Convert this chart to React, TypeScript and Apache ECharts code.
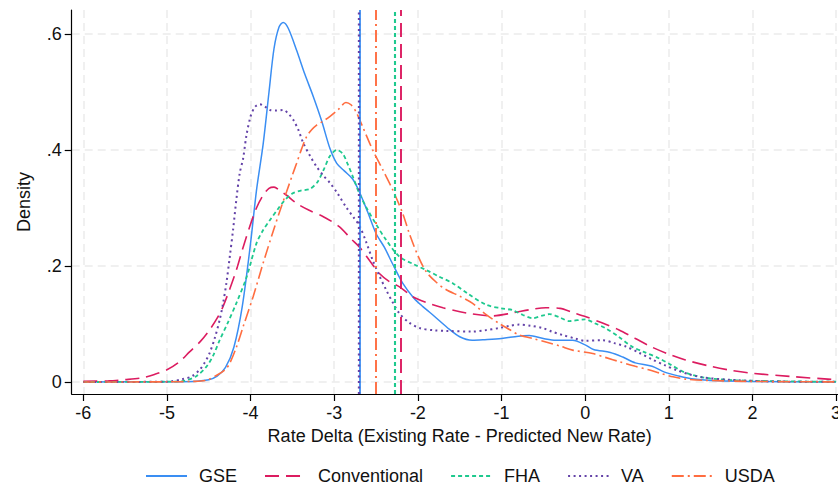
import { useEffect, useRef } from "react";
import * as echarts from "echarts";

// x tick positions and y tick positions
const xTicks = [-6, -5, -4, -3, -2, -1, 0, 1, 2, 3];
const yTicks = [0, 0.2, 0.4, 0.6];

const seriesNames = ["GSE", "Conventional", "FHA", "VA", "USDA"];

// kernel density estimates: [rate delta, density]
const gseDensity = [
  [-6, 0], [-5, 0.0005], [-4.7, 0.001], [-4.5, 0.004], [-4.4, 0.01], [-4.3, 0.025], [-4.2, 0.06],
  [-4.1, 0.13], [-4.0, 0.24], [-3.93, 0.33], [-3.85, 0.41], [-3.78, 0.5], [-3.72, 0.575], [-3.66, 0.612],
  [-3.61, 0.62], [-3.55, 0.61], [-3.45, 0.572], [-3.35, 0.53], [-3.25, 0.492], [-3.15, 0.45], [-3.05, 0.402],
  [-2.97, 0.377], [-2.88, 0.364], [-2.78, 0.35], [-2.7, 0.328], [-2.6, 0.293], [-2.5, 0.256], [-2.4, 0.232],
  [-2.3, 0.203], [-2.18, 0.17], [-2.05, 0.145], [-1.94, 0.13], [-1.8, 0.113], [-1.65, 0.094], [-1.5, 0.078],
  [-1.35, 0.072], [-1.2, 0.073], [-1.0, 0.075], [-0.8, 0.079], [-0.67, 0.08], [-0.5, 0.075], [-0.35, 0.072],
  [-0.15, 0.072], [0.0, 0.064], [0.1, 0.056], [0.3, 0.051], [0.45, 0.043], [0.6, 0.033], [0.8, 0.027],
  [0.95, 0.017], [1.1, 0.011], [1.3, 0.005], [1.6, 0.002], [2.0, 0.001], [3.0, 0.0],
];

const conventionalDensity = [
  [-6, 0.001], [-5.7, 0.002], [-5.5, 0.004], [-5.3, 0.007], [-5.15, 0.013], [-5.0, 0.021], [-4.85, 0.035],
  [-4.73, 0.052], [-4.6, 0.07], [-4.49, 0.09], [-4.4, 0.11], [-4.33, 0.13], [-4.25, 0.16], [-4.17, 0.193],
  [-4.09, 0.232], [-4.01, 0.268], [-3.93, 0.3], [-3.85, 0.322], [-3.78, 0.334], [-3.72, 0.336], [-3.65, 0.33],
  [-3.57, 0.322], [-3.45, 0.308], [-3.3, 0.296], [-3.13, 0.285], [-2.94, 0.268], [-2.8, 0.247], [-2.7, 0.233],
  [-2.58, 0.21], [-2.46, 0.187], [-2.34, 0.173], [-2.22, 0.164], [-2.06, 0.147], [-1.9, 0.137], [-1.7, 0.128],
  [-1.42, 0.119], [-1.11, 0.114], [-0.87, 0.119], [-0.65, 0.125], [-0.47, 0.128], [-0.3, 0.127], [-0.15, 0.12],
  [0.0, 0.113], [0.2, 0.102], [0.4, 0.09], [0.6, 0.075], [0.8, 0.06], [1.0, 0.048], [1.2, 0.038], [1.5, 0.027],
  [1.75, 0.02], [2.0, 0.015], [2.5, 0.009], [3.0, 0.004],
];

const fhaDensity = [
  [-6, 0], [-5, 0.0005], [-4.8, 0.002], [-4.65, 0.01], [-4.53, 0.026], [-4.45, 0.045], [-4.37, 0.072],
  [-4.27, 0.103], [-4.17, 0.136], [-4.05, 0.18], [-3.93, 0.239], [-3.85, 0.262], [-3.77, 0.279], [-3.68, 0.297],
  [-3.6, 0.312], [-3.5, 0.325], [-3.4, 0.33], [-3.29, 0.333], [-3.2, 0.345], [-3.12, 0.368], [-3.05, 0.39],
  [-2.97, 0.4], [-2.9, 0.394], [-2.84, 0.376], [-2.78, 0.355], [-2.7, 0.325], [-2.62, 0.302], [-2.5, 0.272],
  [-2.38, 0.245], [-2.22, 0.216], [-2.05, 0.203], [-1.9, 0.193], [-1.75, 0.182], [-1.58, 0.17], [-1.4, 0.152],
  [-1.18, 0.133], [-1.0, 0.127], [-0.87, 0.124], [-0.75, 0.116], [-0.63, 0.11], [-0.5, 0.115], [-0.43, 0.117],
  [-0.3, 0.111], [-0.19, 0.105], [0.0, 0.108], [0.12, 0.101], [0.24, 0.093], [0.4, 0.078], [0.56, 0.061],
  [0.7, 0.052], [0.88, 0.041], [1.02, 0.03], [1.2, 0.016], [1.45, 0.007], [1.8, 0.003], [2.5, 0.001], [3, 0.0005],
];

const vaDensity = [
  [-6, 0], [-5.0, 0.0005], [-4.81, 0.005], [-4.7, 0.01], [-4.61, 0.021], [-4.55, 0.033], [-4.49, 0.05],
  [-4.43, 0.075], [-4.37, 0.107], [-4.33, 0.135], [-4.29, 0.17], [-4.25, 0.215], [-4.21, 0.262], [-4.17, 0.315],
  [-4.13, 0.36], [-4.09, 0.385], [-4.05, 0.425], [-4.0, 0.458], [-3.95, 0.474], [-3.89, 0.479], [-3.83, 0.475],
  [-3.77, 0.469], [-3.69, 0.468], [-3.61, 0.469], [-3.55, 0.463], [-3.49, 0.452], [-3.43, 0.435], [-3.37, 0.412],
  [-3.29, 0.39], [-3.21, 0.371], [-3.13, 0.356], [-3.05, 0.343], [-2.96, 0.325], [-2.86, 0.302], [-2.76, 0.282],
  [-2.7, 0.27], [-2.62, 0.242], [-2.54, 0.21], [-2.46, 0.183], [-2.38, 0.159], [-2.3, 0.137], [-2.22, 0.118],
  [-2.1, 0.102], [-1.98, 0.093], [-1.8, 0.089], [-1.66, 0.088], [-1.35, 0.087], [-1.2, 0.089], [-1.03, 0.093],
  [-0.9, 0.097], [-0.79, 0.099], [-0.65, 0.097], [-0.51, 0.093], [-0.4, 0.087], [-0.27, 0.081], [-0.12, 0.075],
  [0.0, 0.071], [0.21, 0.072], [0.35, 0.067], [0.49, 0.061], [0.65, 0.05], [0.8, 0.039], [0.95, 0.029],
  [1.1, 0.02], [1.25, 0.013], [1.4, 0.008], [1.7, 0.004], [2.2, 0.001], [3, 0.0003],
];

const usdaDensity = [
  [-6, 0], [-5, 0.0003], [-4.7, 0.001], [-4.53, 0.003], [-4.4, 0.012], [-4.3, 0.022], [-4.25, 0.032],
  [-4.17, 0.06], [-4.09, 0.095], [-3.97, 0.147], [-3.85, 0.205], [-3.73, 0.26], [-3.65, 0.295], [-3.57, 0.328],
  [-3.5, 0.357], [-3.45, 0.377], [-3.39, 0.402], [-3.33, 0.423], [-3.27, 0.435], [-3.21, 0.443], [-3.13, 0.45],
  [-3.05, 0.458], [-2.95, 0.47], [-2.86, 0.482], [-2.8, 0.478], [-2.74, 0.466], [-2.66, 0.44], [-2.54, 0.4],
  [-2.42, 0.366], [-2.3, 0.331], [-2.18, 0.29], [-2.1, 0.255], [-2.0, 0.218], [-1.9, 0.19], [-1.78, 0.172],
  [-1.66, 0.159], [-1.5, 0.148], [-1.35, 0.136], [-1.2, 0.118], [-1.03, 0.101], [-0.9, 0.09], [-0.79, 0.081],
  [-0.6, 0.074], [-0.47, 0.069], [-0.3, 0.062], [-0.15, 0.055], [0.09, 0.049], [0.25, 0.042], [0.41, 0.035],
  [0.6, 0.027], [0.76, 0.021], [0.9, 0.015], [1.05, 0.009], [1.2, 0.005], [1.4, 0.003], [2, 0.001], [3, 0.0002],
];

// vertical reference lines (group averages)
const meanLines = [-2.685, -2.2, -2.28, -2.705, -2.5];

const densities = [gseDensity, conventionalDensity, fhaDensity, vaDensity, usdaDensity];
const colors = ["#3a8ef3", "#dc1c60", "#1ec98e", "#6443a8", "#ff6d40"];
const dashes: (string | number[])[] = ["solid", [14, 7], [4, 3], [2, 3.5], [12, 4, 2, 4]];
const widths = [1.5, 1.6, 1.8, 2, 1.6];

const FONT = "'Liberation Sans', Arial, sans-serif";

export default function App() {
  const chartRef = useRef<HTMLDivElement>(null);

  useEffect(() => {
    document.body.style.margin = "0";
    if (!chartRef.current) return;
    const chart = echarts.init(chartRef.current, null, { renderer: "svg" });

    const option: echarts.EChartsOption = {
      animation: false,
      textStyle: { fontFamily: FONT },
      grid: { left: 71.7, top: 10, width: 776, height: 384, containLabel: false, outerBoundsMode: "none" },
      legend: {
        data: seriesNames,
        left: 145,
        top: 467,
        padding: 0,
        itemWidth: 41,
        itemHeight: 14,
        itemGap: 27,
        itemStyle: { opacity: 0 },
        lineStyle: { opacity: 1 },
        textStyle: { fontSize: 18, color: "#111", fontFamily: FONT, padding: [0, 0, 0, 7] },
      },
      xAxis: {
        type: "value",
        min: -6.139,
        max: 3.139,
        name: "Rate Delta (Existing Rate - Predicted New Rate)",
        nameLocation: "middle",
        nameGap: 32,
        nameTextStyle: { fontSize: 18, color: "#111", fontFamily: FONT },
        axisLine: { onZero: false, lineStyle: { color: "#000", width: 1.2 } },
        axisTick: { customValues: xTicks, length: 7, lineStyle: { color: "#000", width: 1.2 } },
        axisLabel: { customValues: xTicks, fontSize: 18, color: "#111", margin: 10, fontFamily: FONT },
        splitLine: { show: true, lineStyle: { color: "#ebebeb", type: [8, 5], width: 1.5 } },
      } as any,
      yAxis: {
        type: "value",
        min: -0.0207,
        max: 0.6414,
        name: "Density",
        nameLocation: "middle",
        nameGap: 39,
        nameTextStyle: { fontSize: 18, color: "#111", fontFamily: FONT },
        axisLine: { show: true, onZero: false, lineStyle: { color: "#000", width: 1.2 } },
        axisTick: { show: true, customValues: yTicks, length: 7, lineStyle: { color: "#000", width: 1.2 } },
        axisLabel: {
          customValues: yTicks,
          fontSize: 18,
          color: "#111",
          margin: 10,
          fontFamily: FONT,
          formatter: (v: number) => (Math.abs(v) < 1e-9 ? "0" : String(Math.round(v * 10) / 10).replace(/^0\./, ".")),
        },
        splitLine: { show: true, lineStyle: { color: "#ebebeb", type: [8, 5], width: 1.5 } },
      } as any,
      series: seriesNames.map((name, i) => ({
        name,
        type: "line",
        data: densities[i],
        smooth: 0.3,
        symbol: "none",
        showSymbol: false,
        color: colors[i],
        lineStyle: { color: colors[i], width: widths[i], type: dashes[i] as any },
        markLine: {
          silent: true,
          symbol: ["none", "none"],
          label: { show: false },
          lineStyle: { color: colors[i], width: widths[i] + 0.3, type: dashes[i] as any },
          data: [{ xAxis: meanLines[i] }],
        },
      })),
    } as any;

    chart.setOption(option);
    return () => chart.dispose();
  }, []);

  return <div ref={chartRef} style={{ width: "838px", height: "487px" }} />;
}
